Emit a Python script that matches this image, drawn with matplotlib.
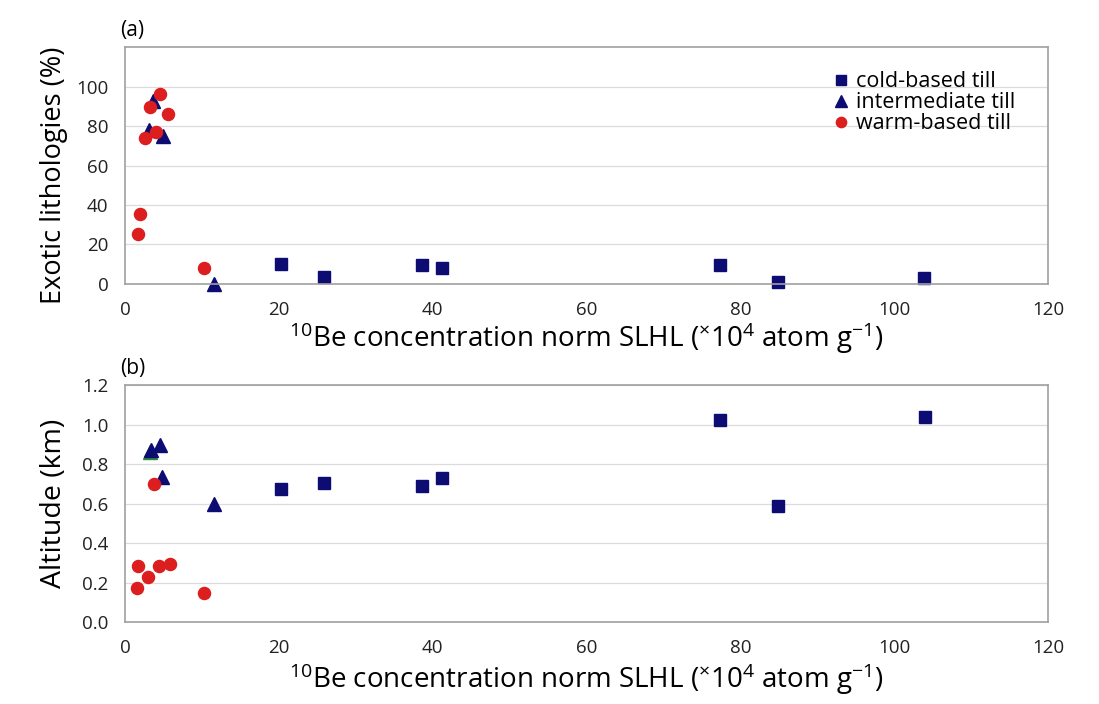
import matplotlib
matplotlib.use("Agg")
import matplotlib.pyplot as plt

plt.rcParams['font.family'] = ['Open Sans', 'DejaVu Sans']
plt.rcParams['mathtext.fontset'] = 'custom'
plt.rcParams['mathtext.rm'] = 'Open Sans'
plt.rcParams['mathtext.it'] = 'Open Sans'

# (a) exotic lithologies vs 10Be
cold_x_a = [20.3, 25.9, 38.6, 41.2, 77.3, 84.9, 103.9]
cold_y_a = [10.2, 3.6, 9.7, 8.2, 9.7, 1.0, 3.0]
inter_x_a = [3.7, 3.1, 4.9, 11.6]
inter_y_a = [92.5, 78.0, 75.0, 0.2]
warm_x_a = [4.6, 3.2, 5.6, 4.0, 2.6, 1.9, 1.7, 10.3]
warm_y_a = [96.3, 89.6, 86.0, 77.2, 74.1, 35.6, 25.4, 8.3]

# (b) altitude vs 10Be
cold_x_b = [20.3, 25.9, 38.6, 41.2, 77.4, 84.9, 104.0]
cold_y_b = [0.673, 0.704, 0.689, 0.729, 1.023, 0.587, 1.038]
inter_x_b = [3.4, 4.5, 4.8, 11.6]
inter_y_b = [0.874, 0.896, 0.736, 0.601]
green_x_b = [3.3]
green_y_b = [0.862]
warm_x_b = [3.8, 1.7, 3.0, 4.4, 5.8, 1.6, 10.3]
warm_y_b = [0.702, 0.285, 0.229, 0.285, 0.297, 0.176, 0.150]

xticks = [0, 20, 40, 60, 80, 100, 120]
yticks_a = [0, 20, 40, 60, 80, 100]
yticks_b = [0.0, 0.2, 0.4, 0.6, 0.8, 1.0, 1.2]

navy = '#0c0c72'
red = '#dc1e1e'
xlab = r'$^{10}$Be concentration norm SLHL ($^{\times}$10$^{4}$ atom g$^{-1}$)'

fig = plt.figure(figsize=(10.99, 7.04), dpi=100)
ax1 = fig.add_axes([0.1137, 0.5966, 0.840, 0.3366])
ax2 = fig.add_axes([0.1137, 0.1158, 0.840, 0.3373])

def style(ax, pad):
    ax.set_xlim(0, 120)
    ax.set_xticks(xticks)
    ax.grid(axis='y', color='#dcdcdc', lw=0.9)
    ax.set_axisbelow(True)
    for s in ax.spines.values():
        s.set_color('#a0a0a0')
        s.set_linewidth(1.2)
    ax.tick_params(labelsize=13.5, length=0, colors='#222222')
    ax.tick_params(axis='y', pad=12)
    ax.tick_params(axis='x', pad=12)
    ax.set_xlabel(xlab, fontsize=20, labelpad=pad)

ms_sq = 8.5
ms_tri = 10.5
ms_ci = 8.7
ax1.plot(cold_x_a, cold_y_a, 's', color=navy, ms=ms_sq, ls='none', label='cold-based till', clip_on=False)
ax1.plot(inter_x_a, inter_y_a, '^', color=navy, ms=ms_tri, ls='none', label='intermediate till', clip_on=False)
ax1.plot(warm_x_a, warm_y_a, 'o', color=red, ms=ms_ci, ls='none', label='warm-based till', clip_on=False)
ax1.set_ylim(0, 120)
ax1.set_yticks(yticks_a)
ax1.set_ylabel('Exotic lithologies (%)', fontsize=19.5)
ax1.yaxis.set_label_coords(-0.062, 0.46)
style(ax1, 1)
leg = ax1.legend(loc='upper right', bbox_to_anchor=(0.985, 0.98), frameon=False, fontsize=15.5,
                 handletextpad=0.1, labelspacing=0.0, handlelength=1.2, markerscale=0.85)

ax2.plot(green_x_b, green_y_b, '^', color='#2e8b3c', ms=ms_tri, ls='none')
ax2.plot(cold_x_b, cold_y_b, 's', color=navy, ms=ms_sq, ls='none')
ax2.plot(inter_x_b, inter_y_b, '^', color=navy, ms=ms_tri, ls='none')
ax2.plot(warm_x_b, warm_y_b, 'o', color=red, ms=ms_ci, ls='none')
ax2.set_ylim(0, 1.2)
ax2.set_yticks(yticks_b)
ax2.set_yticklabels([f'{v:.1f}' for v in yticks_b])
ax2.set_ylabel('Altitude (km)', fontsize=20.5)
ax2.yaxis.set_label_coords(-0.062, 0.5)
style(ax2, 3)

fig.text(0.109, 0.957, '(a)', fontsize=15, ha='left', va='center')
fig.text(0.109, 0.477, '(b)', fontsize=15, ha='left', va='center')

fig.savefig('out.png', dpi=100)
